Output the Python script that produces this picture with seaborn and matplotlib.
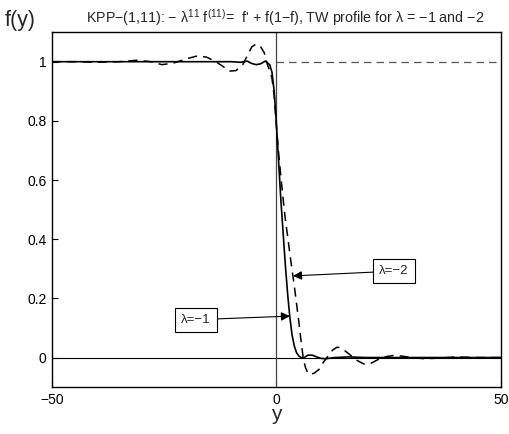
import matplotlib
matplotlib.use("Agg")
import matplotlib.pyplot as plt
import seaborn as sns
import pandas as pd

# ---- data ----
x_lam1 = [-50, -40, -30, -20, -15, -12, -10, -8, -6.5, -5.5, -4.5, -3.5, -2.5, -1.5, -1.0,
          -0.5, 0.0, 0.5, 1.0, 1.5, 2.0, 2.5, 3.0, 3.5, 4.0, 4.5, 5.0, 5.5, 6.0, 7.0,
          8.0, 9.0, 10.0, 11.0, 13.0, 16.0, 20.0, 30.0, 40.0, 50.0]
y_lam1 = [1.0, 1.0, 1.0, 1.0, 1.0, 1.0, 1.0, 0.998, 1.002, 0.994, 0.99, 0.993, 1.002, 0.99, 0.965,
          0.9, 0.79, 0.66, 0.53, 0.42, 0.31, 0.215, 0.135, 0.075, 0.038, 0.016, 0.005, 0.0, -0.002, 0.008,
          0.008, 0.002, -0.003, -0.004, 0.0, 0.002, 0.0, 0.0, 0.0, 0.0]

x_lam2 = [-50, -45, -40, -35, -31, -28, -25.5, -23, -20, -17.5, -15.5, -13.5, -12, -10.5, -9,
          -7.5, -6.5, -5.5, -4.5, -3.5, -2.7, -2.0, -1.5, -1.0, -0.5, 0.0, 0.5, 1.0, 1.5, 2.0,
          2.5, 3.0, 3.5, 4.0, 4.5, 5.0, 5.5, 6.0, 6.5, 7.0, 7.5, 8.5, 9.5, 10.5, 11.5,
          12.5, 13.5, 14.5, 15.5, 16.5, 18.0, 19.5, 21.0, 22.5, 24.0, 26.0, 28.0, 30.0, 33.0,
          36.0, 40.0, 45.0, 50.0]
y_lam2 = [1.0, 1.0, 0.998, 1.0, 1.005, 1.0, 0.99, 0.995, 1.01, 1.02, 1.015, 1.0, 0.985, 0.968, 0.97,
          0.99, 1.02, 1.05, 1.06, 1.05, 1.03, 0.99, 0.97, 0.945, 0.885, 0.78, 0.69, 0.61, 0.535, 0.465,
          0.41, 0.35, 0.295, 0.24, 0.18, 0.12, 0.055, -0.005, -0.035, -0.052, -0.058, -0.052, -0.04, -0.015, 0.005,
          0.025, 0.035, 0.032, 0.02, 0.008, -0.01, -0.022, -0.02, -0.008, 0.002, 0.007, 0.005, 0.0, -0.004,
          -0.002, 0.002, 0.0, 0.0]

x_ticks = [-50, 0, 50]
x_tick_labels = ["\u221250", "0", "50"]
y_ticks = [0, 0.2, 0.4, 0.6, 0.8, 1]
y_tick_labels = ["0", "0.2", "0.4", "0.6", "0.8", "1"]

labels = ["\u03bb=\u22121", "\u03bb=\u22122"]
label_pos = [(-17.9, 0.128), (26.2, 0.292)]
arrow_tip = [(3.0, 0.14), (3.7, 0.276)]

title = ("KPP\u2212(1,11): \u2212 \u03bb$^{11}$ f$^{(11)}$=  f' + f(1\u2212f), "
         "TW profile for \u03bb = \u22121 and \u22122")

# ---- plotting ----
sns.set_theme(style="white")
plt.rcParams["font.family"] = ["Liberation Sans", "DejaVu Sans"]
plt.rcParams["mathtext.fontset"] = "custom"
plt.rcParams["mathtext.rm"] = "Liberation Sans"
plt.rcParams["mathtext.it"] = "Liberation Sans"

fig = plt.figure(figsize=(5.10, 4.34), dpi=100)
ax = fig.add_axes([0.102, 0.108, 0.880, 0.818])

df1 = pd.DataFrame({"y": x_lam1, "f": y_lam1})
df2 = pd.DataFrame({"y": x_lam2, "f": y_lam2})

# reference lines
ax.axhline(0, color="black", lw=0.8, zorder=1)
ax.axvline(0, color="#444444", lw=0.9, zorder=1)
ax.plot([0, 50], [1, 1], color="#555555", lw=0.9, ls=(0, (6, 4)), zorder=1)

sns.lineplot(data=df1, x="y", y="f", ax=ax, color="black", lw=1.2, sort=False,
             estimator=None, zorder=3)
sns.lineplot(data=df2, x="y", y="f", ax=ax, color="black", lw=1.1, sort=False,
             estimator=None, zorder=3, linestyle=(0, (6, 4)))

ax.set_xlim(-50, 50)
ax.set_ylim(-0.1, 1.1)
ax.set_xticks(x_ticks)
ax.set_xticklabels(x_tick_labels)
ax.set_yticks(y_ticks)
ax.set_yticklabels(y_tick_labels)
ax.tick_params(direction="in", length=4.5, width=0.8, labelsize=10, colors="black",
               top=False, right=False, bottom=True, left=True, pad=4)
for s in ax.spines.values():
    s.set_color("black")
    s.set_linewidth(1.0)

ax.set_xlabel("y", fontsize=15, labelpad=-1)
ax.set_ylabel("")
ax.set_title(title, fontsize=10.3, pad=7, x=0.52)
fig.text(0.01, 0.928, "f(y)", fontsize=15.5, ha="left", va="bottom")

for lab, pos, tip in zip(labels, label_pos, arrow_tip):
    ax.annotate(lab, xy=tip, xytext=pos, fontsize=9.5, ha="center", va="center",
                bbox=dict(boxstyle="square,pad=0.45", fc="white", ec="black", lw=0.8),
                arrowprops=dict(arrowstyle="-|>", color="black", lw=0.8,
                                mutation_scale=13, shrinkA=0, shrinkB=0),
                zorder=5)

fig.savefig("out.png", dpi=100)
